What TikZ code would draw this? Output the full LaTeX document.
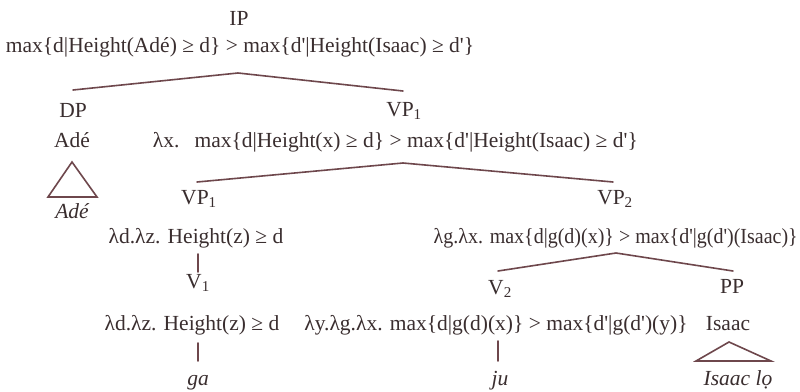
\documentclass[tikz,border=0pt]{standalone}
\usepackage{fontspec}
\usepackage{graphicx}
\setmainfont{Liberation Serif}
\definecolor{ink}{HTML}{3A2E2F}
\definecolor{branch}{HTML}{6E474C}
\newcommand\ap{\textquotesingle}
\tikzset{
  lbl/.style={inner sep=0pt, anchor=base, text=ink, font=\fontsize{21.5}{25}\selectfont},
  ilbl/.style={lbl, font=\fontsize{21.5}{25}\selectfont\itshape},
  br/.style={draw=branch, line width=1.6pt, line cap=round},
}
\begin{document}
\begin{tikzpicture}[x=1pt,y=-1pt]
\useasboundingbox[fill=white] (0,0) rectangle (800,391);
% row 1
\node[lbl] (ip) at (239,25) {IP};
\node[lbl] (ipf) at (240,52) {max\{d|Height(Adé) ≥ d\} > max\{d\ap|Height(Isaac) ≥ d\ap\}};
\coordinate (a1) at (238,73);
\coordinate (dpE) at (73,90);
\coordinate (vp1E) at (403,91);
\draw[br] (dpE) -- (a1) -- (vp1E);
\node[lbl] (dp) at (73,117) {DP};
\node[lbl] (vp1) at (404,116) {VP\textsubscript{1}};
% row 2
\node[lbl] (ade) at (72,147) {Adé};
\node[lbl, anchor=base east] (vp1f) at (638,147) {λx.\hspace{8pt} max\{d|Height(x) ≥ d\} > max\{d\ap|Height(Isaac) ≥ d\ap\}};
\coordinate (t1a) at (72,162);
\coordinate (t1l) at (48,197);
\coordinate (t1r) at (97,197);
\draw[br, line join=miter] (t1a) -- (t1l) -- (t1r) -- cycle;
\node[ilbl] (adei) at (72,218) {Adé};
\coordinate (a2) at (403,163);
\coordinate (vpaE) at (197,182);
\coordinate (vpbE) at (613,182);
\draw[br] (vpaE) -- (a2) -- (vpbE);
\node[lbl] (vpa) at (199,204) {VP\textsubscript{1}};
\node[lbl] (vpb) at (615,204) {VP\textsubscript{2}};
% row 3
\node[lbl] (vpaf) at (196,243) {λd.λz. Height(z) ≥ d};
\node[lbl, anchor=base east] (vpbf) at (798,243) {\scalebox{0.93}[1]{λg.λx. max\{d|g(d)(x)\} > max\{d\ap|g(d\ap)(Isaac)\}}};
\coordinate (l1t) at (198,254);
\coordinate (l1b) at (198,272);
\draw[br] (l1t) -- (l1b);
\coordinate (a3) at (616,253);
\coordinate (v2E) at (498,271);
\coordinate (ppE) at (733,271);
\draw[br] (v2E) -- (a3) -- (ppE);
\node[lbl] (v1) at (198,288) {V\textsubscript{1}};
\node[lbl] (v2) at (500,294) {V\textsubscript{2}};
\node[lbl] (pp) at (732,293) {PP};
% row 4
\node[lbl] (v1f) at (192,330) {λd.λz. Height(z) ≥ d};
\node[lbl] (v2f) at (496,330) {λy.λg.λx. max\{d|g(d)(x)\} > max\{d\ap|g(d\ap)(y)\}};
\node[lbl] (isaac) at (728,330) {Isaac};
\coordinate (l2t) at (198,343);
\coordinate (l2b) at (198,361);
\draw[br] (l2t) -- (l2b);
\coordinate (l3t) at (498,341);
\coordinate (l3b) at (498,361);
\draw[br] (l3t) -- (l3b);
\coordinate (t2a) at (729,342);
\coordinate (t2l) at (696,361);
\coordinate (t2r) at (771,361);
\draw[br, line join=miter] (t2a) -- (t2l) -- (t2r) -- cycle;
\node[ilbl] (ga) at (198,385) {ga};
\node[ilbl] (ju) at (500,385) {ju};
\node[ilbl] (isaaclo) at (738,385) {Isaac lọ};
\end{tikzpicture}
\end{document}
